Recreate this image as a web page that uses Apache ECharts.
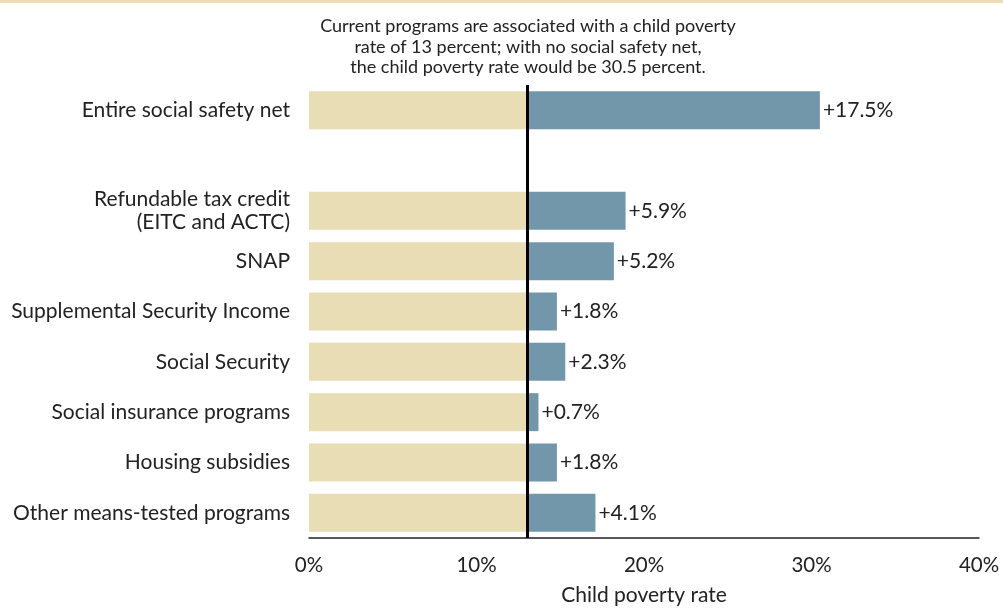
<!DOCTYPE html>
<html><head><meta charset="utf-8">
<script src="https://cdn.jsdelivr.net/npm/echarts@6/dist/echarts.min.js"></script>
<style>html,body{margin:0;padding:0;background:#fff}#c{width:1003px;height:611px}</style>
</head><body><div id="c"></div>
<script>
const categories = ['Entire social safety net', '', 'Refundable tax credit\n(EITC and ACTC)', 'SNAP', 'Supplemental Security Income', 'Social Security', 'Social insurance programs', 'Housing subsidies', 'Other means-tested programs'];
const baseRate = [13, null, 13, 13, 13, 13, 13, 13, 13];
const increments = [17.5, null, 5.9, 5.2, 1.8, 2.3, 0.7, 1.8, 4.1];
const xTicks = [0, 10, 20, 30, 40];
const currentRate = 13;
const note = 'Current programs are associated with a child poverty\nrate of 13 percent; with no social safety net,\nthe child poverty rate would be 30.5 percent.';

const chart = echarts.init(document.getElementById('c'));
const font = 'Lato, "Open Sans", sans-serif';
chart.setOption({
  animation: false,
  textStyle: {fontFamily: font},
  graphic: [
    {type: 'rect', shape: {x: 0, y: 0, width: 1003, height: 3}, style: {fill: '#E8DDB5'}},
    {type: 'text', style: {text: note, x: 528, y: 16, textAlign: 'center', fontSize: 18, lineHeight: 20.5, fontFamily: font, fill: '#222'}}
  ],
  grid: {left: 309, right: 24, top: 85, bottom: 73, outerBoundsMode: 'none', containLabel: false},
  xAxis: {
    type: 'value', min: xTicks[0], max: xTicks[xTicks.length - 1], interval: 10,
    name: 'Child poverty rate', nameLocation: 'middle', nameGap: 47,
    nameTextStyle: {fontSize: 21, color: '#222', fontFamily: font},
    axisLine: {show: true, lineStyle: {color: '#222', width: 1.5}},
    axisTick: {show: false}, splitLine: {show: false},
    axisLabel: {formatter: '{value}%', fontSize: 20.5, color: '#222', margin: 17, fontFamily: font}
  },
  yAxis: {
    type: 'category', data: categories, inverse: true,
    axisLine: {show: false}, axisTick: {show: false},
    axisLabel: {fontSize: 21, color: '#222', margin: 19, lineHeight: 23, fontFamily: font}
  },
  series: [
    {type: 'bar', stack: 'a', data: baseRate, barWidth: 38, itemStyle: {color: '#E8DDB5'},
     markLine: {silent: true, symbol: 'none', label: {show: false},
       lineStyle: {color: '#000', width: 3, type: 'solid'}, data: [{xAxis: currentRate}]}},
    {type: 'bar', stack: 'a', data: increments, barWidth: 38, itemStyle: {color: '#7397AA'},
     label: {show: true, position: 'right', distance: 3, fontSize: 21, color: '#222', fontFamily: font,
       formatter: p => '+' + p.value.toFixed(1) + '%'}}
  ]
});
</script></body></html>
